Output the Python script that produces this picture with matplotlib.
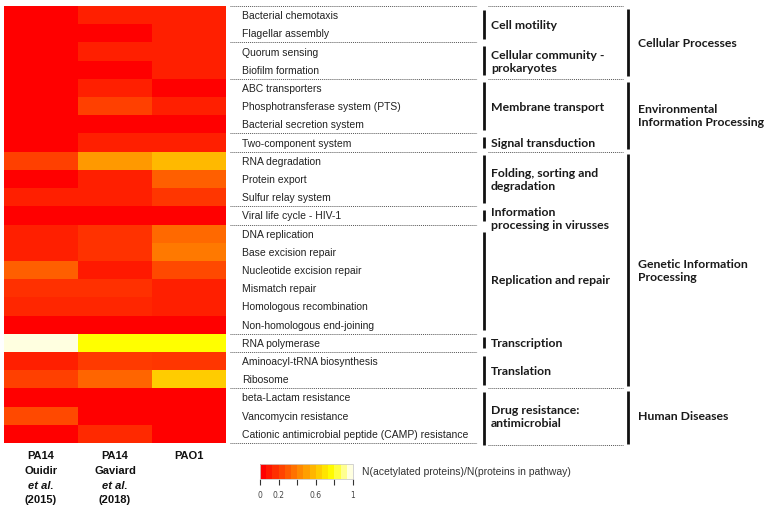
import numpy as np
import matplotlib
matplotlib.use('Agg')
import matplotlib.pyplot as plt
from matplotlib.colors import LinearSegmentedColormap

# 列（株・文献）
strains = ['PA14 Ouidir (2015)', 'PA14 Gaviard (2018)', 'PAO1']

pathways = [
    'Bacterial chemotaxis', 'Flagellar assembly', 'Quorum sensing', 'Biofilm formation',
    'ABC transporters', 'Phosphotransferase system (PTS)', 'Bacterial secretion system',
    'Two-component system', 'RNA degradation', 'Protein export', 'Sulfur relay system',
    'Viral life cycle - HIV-1', 'DNA replication', 'Base excision repair',
    'Nucleotide excision repair', 'Mismatch repair', 'Homologous recombination',
    'Non-homologous end-joining', 'RNA polymerase', 'Aminoacyl-tRNA biosynthesis',
    'Ribosome', 'beta-Lactam resistance', 'Vancomycin resistance',
    'Cationic antimicrobial peptide (CAMP) resistance',
]

# 割合（目視で読み取り）
ouidir = [0.0, 0.0, 0.0, 0.0, 0.0, 0.0, 0.0, 0.0, 0.2, 0.0, 0.1, 0.0,
          0.1, 0.1, 0.3, 0.15, 0.12, 0.0, 1.0, 0.1, 0.2, 0.0, 0.23, 0.0]
gaviard = [0.1, 0.0, 0.1, 0.0, 0.1, 0.2, 0.0, 0.1, 0.48, 0.1, 0.1, 0.0,
           0.16, 0.16, 0.08, 0.15, 0.12, 0.0, 0.8, 0.18, 0.32, 0.0, 0.0, 0.13]
pao1 = [0.1, 0.1, 0.1, 0.1, 0.0, 0.1, 0.0, 0.1, 0.58, 0.3, 0.17, 0.0,
        0.33, 0.38, 0.23, 0.1, 0.1, 0.0, 0.8, 0.17, 0.64, 0.0, 0.0, 0.0]

# サブカテゴリ (名前, 開始行, 終了行)
sub_groups = [
    ('Cell motility', 0, 2),
    ('Cellular community -\nprokaryotes', 2, 4),
    ('Membrane transport', 4, 7),
    ('Signal transduction', 7, 8),
    ('Folding, sorting and\ndegradation', 8, 11),
    ('Information\nprocessing in virusses', 11, 12),
    ('Replication and repair', 12, 18),
    ('Transcription', 18, 19),
    ('Translation', 19, 21),
    ('Drug resistance:\nantimicrobial', 21, 24),
]
top_groups = [
    ('Cellular Processes', 0, 4),
    ('Environmental\nInformation Processing', 4, 8),
    ('Genetic Information\nProcessing', 8, 21),
    ('Human Diseases', 21, 24),
]

W, H = 764, 506
fig = plt.figure(figsize=(W / 100, H / 100), dpi=100)

cmap = LinearSegmentedColormap.from_list(
    'acet', [(0, '#FF0000'), (0.8, '#FFFF00'), (1, '#FFFFE0')])

data = np.array([ouidir, gaviard, pao1]).T
n = len(pathways)

top_px, bot_px = 7, 444
ax_bottom = 1 - bot_px / H
ax_height = (bot_px - top_px) / H

ax = fig.add_axes([4 / W, ax_bottom, 222 / W, ax_height])
ax.pcolormesh(np.arange(4) - 0.5, np.arange(n + 1), data, cmap=cmap, vmin=0, vmax=1)
ax.set_ylim(n, 0)
ax.set_xlim(-0.5, 2.5)
ax.axis('off')

# 注釈用の重ね合わせ軸（x: ピクセル, y: 行）
ov = fig.add_axes([0, ax_bottom, 1, ax_height])
ov.set_xlim(0, W)
ov.set_ylim(n, 0)
ov.axis('off')

for i, name in enumerate(pathways):
    ov.text(242, i + 0.5, name, va='center', ha='left', fontsize=7.5,
            family='Liberation Sans', color='#222222')

dot = (0, (1, 1))
for b in sorted({g[1] for g in sub_groups} | {g[2] for g in sub_groups}):
    ov.plot([230, 477], [b, b], color='#555555', lw=0.7, ls=dot, clip_on=False)
for b in sorted({g[1] for g in top_groups} | {g[2] for g in top_groups}):
    ov.plot([488, 623], [b + (0.1 if b == n else 0), b + (0.1 if b == n else 0)],
            color='#555555', lw=0.7, ls=dot, clip_on=False)

for name, s, e in sub_groups:
    s0 = s + 0.4 if name.startswith('Replication') else s + 0.2
    e0 = e + 0.1 if e == n else e - 0.2
    ov.plot([484, 484], [s0, e0], color='#111111', lw=2.0, solid_capstyle='butt',
            clip_on=False)
    yc = (s + e) / 2
    if name.startswith('Information'):
        yc = s + 0.65
    ov.text(491, yc, name, va='center', ha='left', fontsize=8.8, fontweight='bold',
            family='Lato', color='#1a1a1a', linespacing=1.2)

for name, s, e in top_groups:
    e0 = e + 0.05 if e == n else e - 0.15
    ov.plot([628, 628], [s + 0.15, e0], color='#111111',
            lw=2.0, solid_capstyle='butt', clip_on=False)
    ov.text(638, (s + e) / 2, name, va='center', ha='left', fontsize=8.8,
            fontweight='bold', family='Lato', color='#1a1a1a', linespacing=1.2)

# 列ラベル
col_lines = [['PA14', 'Ouidir', 'et al.', '(2015)'],
             ['PA14', 'Gaviard', 'et al.', '(2018)'],
             ['PAO1']]
centers = [41, 115, 189]
for cx, lines in zip(centers, col_lines):
    for k, t in enumerate(lines):
        fig.text(cx / W, 1 - (456 + k * 14.8) / H, t, ha='center', va='center',
                 fontsize=8, fontweight='bold', family='Liberation Sans',
                 style='italic' if t == 'et al.' else 'normal', color='#111111')

# カラーバー
cax = fig.add_axes([260 / W, 1 - 480 / H, 93 / W, 15 / H])
sm = plt.cm.ScalarMappable(cmap=cmap.resampled(15), norm=plt.Normalize(0, 1))
cb = fig.colorbar(sm, cax=cax, orientation='horizontal')
cb.set_ticks([0, 0.2, 0.4, 0.6, 0.8, 1.0])
cb.set_ticklabels(['0', '0.2', '', '0.6', '', '1'])
cax.tick_params(labelsize=5.5, length=4, width=0.8, color='#333333',
                labelcolor='#444444', pad=4)
cb.outline.set_edgecolor('#cccccc')
cb.outline.set_linewidth(0.6)
fig.text(362 / W, 1 - 472 / H, 'N(acetylated proteins)/N(proteins in pathway)',
         ha='left', va='center', fontsize=7.5, family='Liberation Sans', color='#333333')

fig.savefig('out.png', dpi=100)
